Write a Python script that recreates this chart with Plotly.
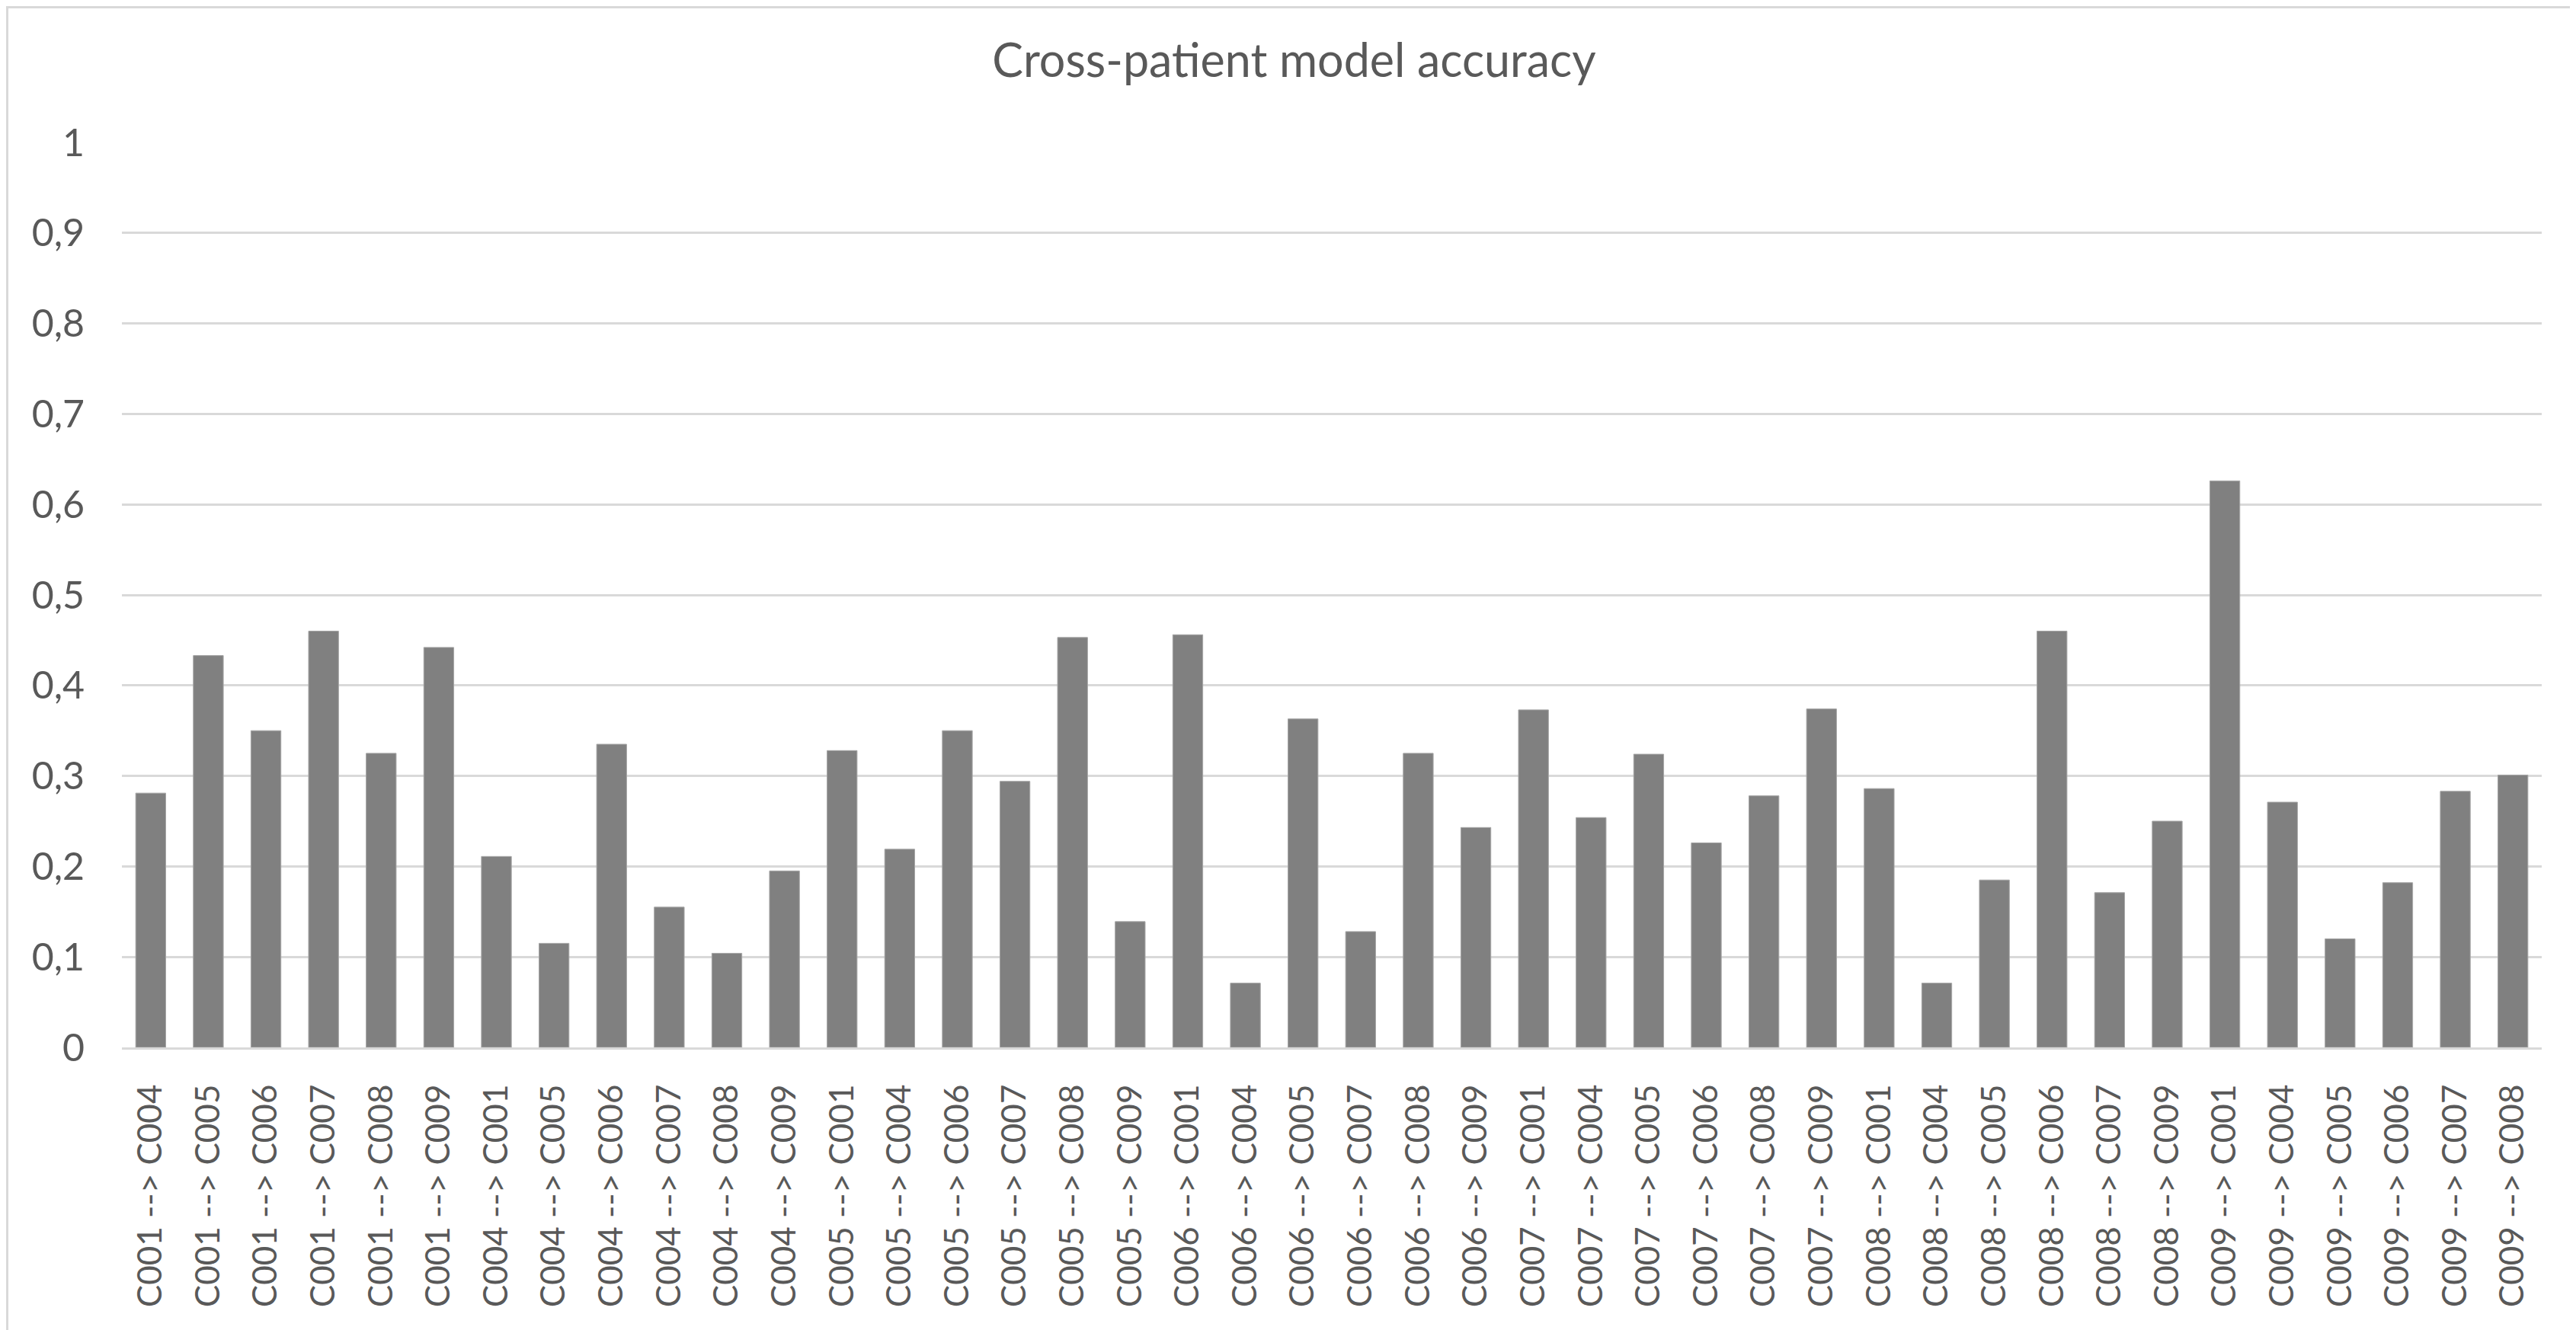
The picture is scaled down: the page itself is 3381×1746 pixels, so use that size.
import plotly.graph_objects as go

categories = [
    "C001 --> C004", "C001 --> C005", "C001 --> C006", "C001 --> C007", "C001 --> C008", "C001 --> C009",
    "C004 --> C001", "C004 --> C005", "C004 --> C006", "C004 --> C007", "C004 --> C008", "C004 --> C009",
    "C005 --> C001", "C005 --> C004", "C005 --> C006", "C005 --> C007", "C005 --> C008", "C005 --> C009",
    "C006 --> C001", "C006 --> C004", "C006 --> C005", "C006 --> C007", "C006 --> C008", "C006 --> C009",
    "C007 --> C001", "C007 --> C004", "C007 --> C005", "C007 --> C006", "C007 --> C008", "C007 --> C009",
    "C008 --> C001", "C008 --> C004", "C008 --> C005", "C008 --> C006", "C008 --> C007", "C008 --> C009",
    "C009 --> C001", "C009 --> C004", "C009 --> C005", "C009 --> C006", "C009 --> C007", "C009 --> C008",
]

accuracy = [
    0.281, 0.433, 0.350, 0.460, 0.325, 0.442,
    0.211, 0.115, 0.335, 0.155, 0.104, 0.195,
    0.328, 0.219, 0.350, 0.294, 0.453, 0.139,
    0.456, 0.071, 0.363, 0.128, 0.325, 0.243,
    0.373, 0.254, 0.324, 0.226, 0.278, 0.374,
    0.286, 0.071, 0.185, 0.460, 0.171, 0.250,
    0.626, 0.271, 0.120, 0.182, 0.283, 0.301,
]

y_ticks = [0, 0.1, 0.2, 0.3, 0.4, 0.5, 0.6, 0.7, 0.8, 0.9, 1]

W, H = 3381, 1746
ML, MR, MT, MB = 152, 53, 179, 379
TEXT = "#595959"
GRID = "#d9d9d9"
FONT = "Lato"

fig = go.Figure(
    go.Bar(
        x=categories,
        y=accuracy,
        marker=dict(color="#808080", line=dict(color="#a6a6a6", width=1)),
    )
)

pw = W - ML - MR
ph = H - MT - MB

fig.update_layout(
    template="none",
    width=W,
    height=H,
    margin=dict(l=ML, r=MR, t=MT, b=MB, autoexpand=False),
    paper_bgcolor="white",
    plot_bgcolor="white",
    separators=",.",
    bargap=0.48,
    showlegend=False,
    font=dict(family=FONT, color=TEXT, size=44),
    title=dict(
        text="Cross-patient model accuracy",
        x=0.5,
        xanchor="center",
        y=1 - 72 / H,
        yanchor="middle",
        font=dict(family=FONT, size=61, color=TEXT),
    ),
    xaxis=dict(
        type="category",
        tickangle=-90,
        showgrid=False,
        showline=True,
        linecolor=GRID,
        linewidth=3,
        ticks="",
        automargin=False,
        tickfont=dict(family=FONT, size=44, color=TEXT),
        ticklabelstandoff=28,
    ),
    yaxis=dict(
        range=[0, 1],
        tickvals=y_ticks,
        showgrid=True,
        gridcolor=GRID,
        gridwidth=3,
        zeroline=False,
        showline=False,
        ticks="",
        automargin=False,
        tickfont=dict(family=FONT, size=50, color=TEXT),
        ticklabelstandoff=48,
    ),
)

# outer chart border
fig.add_shape(
    type="rect",
    xref="paper",
    yref="paper",
    x0=(1.5 - ML) / pw,
    x1=(W - 1.5 - ML) / pw,
    y0=-(MB - 1.5) / ph,
    y1=(H - MB - 1.5) / ph,
    line=dict(color=GRID, width=3),
    layer="below",
)

fig.write_html("out.html")
